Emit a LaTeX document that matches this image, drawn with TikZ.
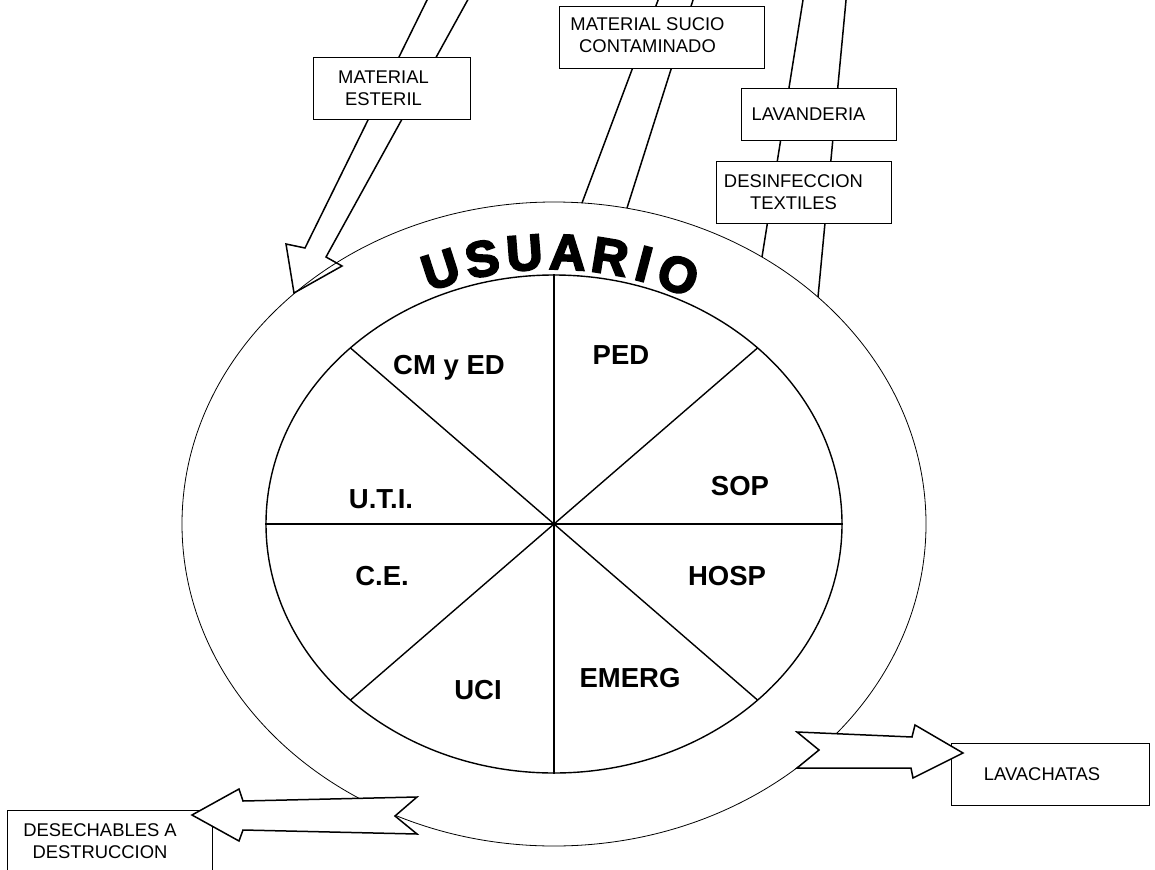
\documentclass[tikz,border=0pt]{standalone}
\usepackage{fontspec}
\setmainfont{Liberation Sans}
\newfontfamily\usufont[FakeBold=4]{Liberation Sans Bold}
\usetikzlibrary{shapes.geometric}
\begin{document}
\begin{tikzpicture}[x=1pt,y=-1pt,
  boxtxt/.style={font=\fontsize{18.4}{22}\selectfont, align=center, inner sep=0pt},
  box/.style={draw, line width=0.9pt, fill=white, inner sep=0pt},
  sector/.style={font=\fontsize{27.5}{30}\selectfont\bfseries, inner sep=0pt},
  divline/.style={line width=1.4pt},
  flowline/.style={line width=1.5pt},
  blockarrow/.style={draw, line width=1.5pt, fill=white, line join=miter},
  usu/.style={font=\usufont\fontsize{50}{50}\selectfont, inner sep=0pt},
]
\useasboundingbox (0,0) rectangle (1155,869);
\clip (0,0) rectangle (1155,869);

% arrow: material esteril (enters the ring)
\draw[blockarrow] (430,-6) -- (305,248) -- (286,244) -- (294,293) -- (342,266) -- (326,257) -- (471,-6) -- cycle;

% outer ring and inner pie
\node[draw, ellipse, line width=0.8pt, minimum width=744, minimum height=644, inner sep=0pt] (outer) at (554,524) {};
\node[draw, ellipse, line width=1.4pt, minimum width=576, minimum height=498, inner sep=0pt] (pie) at (554,524) {};

\coordinate (dUL) at (350.4,347.9);
\coordinate (dUR) at (757.6,347.9);
\coordinate (dLL) at (350.4,700.1);
\coordinate (dLR) at (757.6,700.1);
\draw[divline] (pie.north) -- (pie.south);
\draw[divline] (pie.west) -- (pie.east);
\draw[divline] (dUL) -- (dLR);
\draw[divline] (dUR) -- (dLL);

% sector labels
\node[sector] (cm)   at (449,368) {CM y ED};
\node[sector] (ped)  at (621,355) {PED};
\node[sector] (sop)  at (740,486) {SOP};
\node[sector] (uti)  at (381,499) {U.T.I.};
\node[sector] (ce)   at (382,576) {C.E.};
\node[sector] (hosp) at (727,576) {HOSP};
\node[sector] (emerg) at (630,678) {EMERG};
\node[sector] (uci)  at (478,690) {UCI};

% USUARIO arched title
\foreach \ch/\ang [count=\i] in {U/-18,S/-11.2,U/-4.4,A/2.5,R/9.3,I/14.8,O/20.5}
  \node[usu, rotate={0-(\ang)}] (usu\i) at ({552+360*sin(\ang)},{612-360*cos(\ang)}) {\ch};

% flows leaving upward
\coordinate (sucA) at (582,203);
\coordinate (sucB) at (627,208);
\coordinate (sucAt) at (660,-5);
\coordinate (sucBt) at (694.6,-5);
\draw[flowline] (sucA) -- (sucAt);
\draw[flowline] (sucB) -- (sucBt);
\coordinate (lavA) at (762,257);
\coordinate (lavB) at (818,297);
\coordinate (lavAt) at (803.8,-5);
\coordinate (lavBt) at (846.5,-5);
\draw[flowline] (lavA) -- (lavAt);
\draw[flowline] (lavB) -- (lavBt);

% boxes
\node[box, minimum width=157, minimum height=62] (esteril) at (391.5,88) {};
\node[boxtxt, xshift=-8pt] (esterilT) at (esteril.center) {MATERIAL\\ESTERIL};
\node[box, minimum width=205, minimum height=62] (sucio) at (661.5,37) {};
\node[boxtxt, xshift=-14pt, yshift=1.5pt] (sucioT) at (sucio.center) {MATERIAL SUCIO\\CONTAMINADO};
\node[box, minimum width=155, minimum height=52] (lavanderia) at (818.5,114) {};
\node[boxtxt, xshift=-10pt] (lavanderiaT) at (lavanderia.center) {LAVANDERIA};
\node[box, minimum width=175, minimum height=62] (desinf) at (803.5,192) {};
\node[boxtxt, xshift=-10pt] (desinfT) at (desinf.center) {DESINFECCION\\TEXTILES};
\node[box, minimum width=198, minimum height=62] (lavachatas) at (1050,774) {};
\node[boxtxt, xshift=-8pt] (lavachatasT) at (lavachatas.center) {LAVACHATAS};
\draw[line width=0.9pt, fill=white] (7,880) -- (7,810) -- (212,810) -- (212,880);
\node[boxtxt] (desech) at (100,841) {DESECHABLES A\\DESTRUCCION};

% arrows leaving the ring
\draw[blockarrow] (797,732) -- (912,737) -- (915,725) -- (963,753) -- (913,778) -- (911,768) -- (797,768) -- (819,750) -- cycle;
\draw[blockarrow] (417,797) -- (243,801) -- (239,789) -- (192,815) -- (239,841) -- (243,830) -- (417,834) -- (395,816) -- cycle;
\end{tikzpicture}
\end{document}
